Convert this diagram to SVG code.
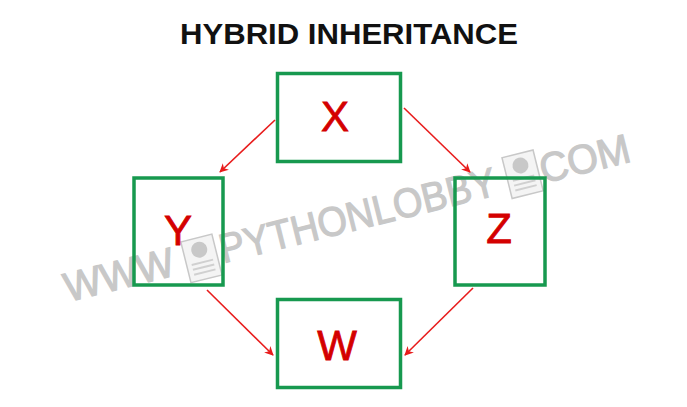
<svg xmlns="http://www.w3.org/2000/svg" width="687" height="407" viewBox="0 0 687 407">
<style>
.box{fill:none;stroke:#17994f;stroke-width:3.5}
.lbl{font-family:"Liberation Sans",Arial,sans-serif;font-size:42px;fill:#d40000;stroke:#d40000;stroke-width:0.8;text-anchor:middle}
.wm{font-family:"Liberation Sans",Arial,sans-serif;font-size:41px;fill:#c8c8c8;stroke:#c8c8c8;stroke-width:1.2}
.edge{stroke:#e81c1c;stroke-width:1.6;fill:none;marker-end:url(#ah)}
</style>
<defs>
<marker id="ah" viewBox="0 0 10 10" refX="9" refY="5" markerWidth="9" markerHeight="9" markerUnits="userSpaceOnUse" orient="auto">
<path d="M0,0 L10,5 L0,10 L3,5 Z" fill="#e81c1c"/>
</marker>
<g id="doc">
<rect x="0" y="0" width="32" height="42" fill="#f4f4f4" stroke="#c8c8c8" stroke-width="1.5"/>
<circle cx="16" cy="12" r="8" fill="#c8c8c8"/>
<rect x="5" y="24" width="22" height="2" fill="#d0d0d0"/>
<rect x="5" y="29" width="22" height="2" fill="#d0d0d0"/>
<rect x="5" y="34" width="22" height="2" fill="#d0d0d0"/>
</g>
</defs>
<rect width="687" height="407" fill="#fff"/>
<text x="349" y="44" font-family="Liberation Sans,Arial,sans-serif" font-weight="bold" font-size="29" text-anchor="middle" textLength="338" lengthAdjust="spacingAndGlyphs" fill="#111">HYBRID INHERITANCE</text>
<g id="watermark" transform="translate(68,302) rotate(-14)">
<text class="wm" x="0" y="0" textLength="112" lengthAdjust="spacingAndGlyphs">WWW</text>
<use href="#doc" x="124" y="-31"/>
<text class="wm" x="160" y="0" textLength="284" lengthAdjust="spacingAndGlyphs">PYTHONLOBBY</text>
<use href="#doc" x="456" y="-35"/>
<text class="wm" x="490" y="0" textLength="92" lengthAdjust="spacingAndGlyphs">COM</text>
</g>
<g id="nodeX"><rect class="box" x="277.5" y="73.5" width="123" height="88"/><text class="lbl" x="335" y="131">X</text></g>
<g id="nodeY"><rect class="box" x="134" y="178" width="89" height="107"/><text class="lbl" x="178" y="245">Y</text></g>
<g id="nodeZ"><rect class="box" x="455" y="178" width="90" height="107"/><text class="lbl" x="499" y="243">Z</text></g>
<g id="nodeW"><rect class="box" x="277.5" y="299.5" width="123" height="88"/><text class="lbl" x="337" y="360">W</text></g>
<g id="connectors">
<line class="edge" x1="275" y1="120" x2="220" y2="172"/>
<line class="edge" x1="404" y1="108" x2="470" y2="172"/>
<line class="edge" x1="207" y1="290" x2="273" y2="355"/>
<line class="edge" x1="473" y1="288" x2="405" y2="355"/>
</g>
</svg>
